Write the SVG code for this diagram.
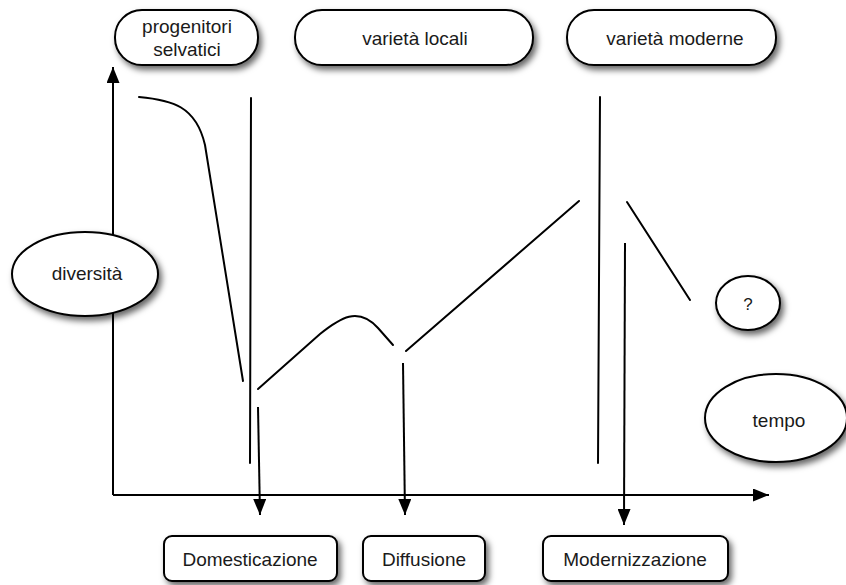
<svg xmlns="http://www.w3.org/2000/svg" width="846" height="585" viewBox="0 0 846 585">
  <defs>
    <filter id="shadow" x="-20%" y="-30%" width="150%" height="170%">
      <feDropShadow dx="3" dy="4" stdDeviation="3" flood-color="#000" flood-opacity="0.6"/>
    </filter>
    <marker id="arrow" viewBox="0 0 16 13" markerWidth="16" markerHeight="13" refX="16" refY="6.5" orient="auto" markerUnits="userSpaceOnUse">
      <path d="M0,0 L16,6.5 L0,13 z" fill="#000"/>
    </marker>
  </defs>
  <style>
    .shape { fill: #fff; stroke: #000; stroke-width: 2; filter: url(#shadow); }
    .label { font-family: "Liberation Sans", Arial, sans-serif; font-size: 19px; fill: #1a1a1a; text-anchor: middle; }
    .line { fill: none; stroke: #000; stroke-width: 2; stroke-linecap: round; }
    .arrow { fill: none; stroke: #000; stroke-width: 2; marker-end: url(#arrow); }
  </style>
  <rect width="846" height="585" fill="#fff"/>

  <g id="connectors">
    <line class="arrow" x1="113" y1="495" x2="113" y2="67"/>
    <line class="arrow" x1="113" y1="495" x2="769" y2="495"/>
    <line class="line" x1="251" y1="98" x2="250" y2="463"/>
    <line class="line" x1="600" y1="97" x2="598" y2="463"/>
    <line class="arrow" x1="258" y1="407" x2="260" y2="515"/>
    <line class="arrow" x1="403" y1="363" x2="405" y2="515"/>
    <line class="arrow" x1="625" y1="243" x2="624" y2="525"/>
  </g>

  <g id="curves">
    <path class="line" d="M139,97 C172,100 196,106 205,145 L243,381"/>
    <path class="line" d="M258,389 L320,334 C340,318 358,306 378,328 L393,345"/>
    <line class="line" x1="406" y1="351" x2="579" y2="201"/>
    <line class="line" x1="627" y1="202" x2="690" y2="300"/>
  </g>

  <g id="progenitori-selvatici">
    <rect class="shape" x="115" y="10" width="143" height="55" rx="27"/>
    <text class="label" x="187" y="33">progenitori</text>
    <text class="label" x="187" y="56">selvatici</text>
  </g>
  <g id="varieta-locali">
    <rect class="shape" x="295" y="10" width="238" height="55" rx="27"/>
    <text class="label" x="415" y="45">varietà locali</text>
  </g>
  <g id="varieta-moderne">
    <rect class="shape" x="567" y="10" width="209" height="55" rx="27"/>
    <text class="label" x="675" y="45">varietà moderne</text>
  </g>
  <g id="diversita">
    <ellipse class="shape" cx="85" cy="274" rx="73" ry="42"/>
    <text class="label" x="87" y="280">diversità</text>
  </g>
  <g id="question">
    <ellipse class="shape" cx="748" cy="303" rx="32" ry="27"/>
    <text class="label" x="748" y="310" style="font-size:17px">?</text>
  </g>
  <g id="tempo">
    <ellipse class="shape" cx="776" cy="418" rx="71" ry="44"/>
    <text class="label" x="779" y="427">tempo</text>
  </g>
  <g id="domesticazione">
    <rect class="shape" x="164" y="536" width="173" height="45" rx="8"/>
    <text class="label" x="250" y="566">Domesticazione</text>
  </g>
  <g id="diffusione">
    <rect class="shape" x="363" y="536" width="122" height="45" rx="8"/>
    <text class="label" x="424" y="566">Diffusione</text>
  </g>
  <g id="modernizzazione">
    <rect class="shape" x="543" y="536" width="185" height="45" rx="8"/>
    <text class="label" x="635" y="566">Modernizzazione</text>
  </g>
</svg>
